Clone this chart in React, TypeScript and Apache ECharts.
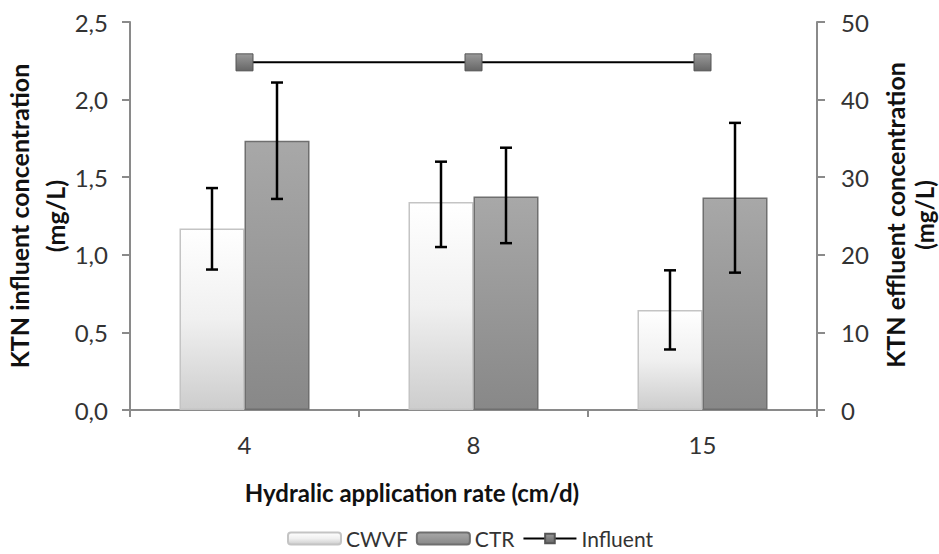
import React, { useEffect, useRef } from "react";
import * as echarts from "echarts";

const categories = ["4", "8", "15"];
const cwvf = [23.4, 26.8, 12.9];
const cwvfLow = [18.1, 21.0, 7.8];
const cwvfHigh = [28.6, 32.0, 18.0];
const ctr = [34.7, 27.5, 27.4];
const ctrLow = [27.2, 21.5, 17.7];
const ctrHigh = [42.2, 33.8, 37.0];
const influent = [2.24, 2.24, 2.24];
const leftTicks = { min: 0, max: 2.5, interval: 0.5 };
const rightTicks = { min: 0, max: 50, interval: 10 };

const FONT = "Lato, 'Open Sans', sans-serif";
const AXIS_COLOR = "#8a8a8a";
const BAR_W = 65;

function errorSeries(name: string, low: number[], high: number[], offset: number) {
  return {
    type: "custom",
    name,
    yAxisIndex: 1,
    z: 10,
    silent: true,
    data: categories.map((_, i) => [i, low[i], high[i]]),
    renderItem: (params: any, api: any) => {
      const xi = api.value(0);
      const lo = api.coord([xi, api.value(1)]);
      const hi = api.coord([xi, api.value(2)]);
      const x = lo[0] + offset;
      const cap = 6;
      const style = { stroke: "#000", lineWidth: 2.5 };
      return {
        type: "group",
        children: [
          { type: "line", shape: { x1: x, y1: lo[1], x2: x, y2: hi[1] }, style },
          { type: "line", shape: { x1: x - cap, y1: lo[1], x2: x + cap, y2: lo[1] }, style },
          { type: "line", shape: { x1: x - cap, y1: hi[1], x2: x + cap, y2: hi[1] }, style },
        ],
      };
    },
  };
}

function nameText(text: string, x: number, y: number, rotate: boolean, size: number) {
  return {
    type: "text",
    x,
    y,
    rotation: rotate ? Math.PI / 2 : 0,
    style: {
      text,
      fontSize: size,
      fontWeight: "bold",
      fontFamily: FONT,
      fill: "#111",
      textAlign: "center",
      textVerticalAlign: "middle",
    },
  };
}

export default function App() {
  const ref = useRef<HTMLDivElement>(null);
  useEffect(() => {
    if (!ref.current) return;
    const chart = echarts.init(ref.current, undefined, { renderer: "svg" });
    const cwvfColor = new echarts.graphic.LinearGradient(0, 0, 0, 1, [
      { offset: 0, color: "#ffffff" },
      { offset: 0.5, color: "#f0f0f0" },
      { offset: 1, color: "#cdcdcd" },
    ]);
    const ctrColor = new echarts.graphic.LinearGradient(0, 0, 0, 1, [
      { offset: 0, color: "#a8a8a8" },
      { offset: 1, color: "#888888" },
    ]);
    const markerColor = new echarts.graphic.LinearGradient(0, 0, 0, 1, [
      { offset: 0, color: "#9a9a9a" },
      { offset: 1, color: "#666666" },
    ]);
    chart.setOption({
      animation: false,
      textStyle: { fontFamily: FONT },
      grid: { left: 130, right: 122, top: 22, bottom: 144 },
      xAxis: {
        type: "category",
        data: categories,
        axisLine: { lineStyle: { color: AXIS_COLOR, width: 2 } },
        axisTick: { show: true, length: 7, lineStyle: { color: AXIS_COLOR, width: 2 } },
        axisLabel: { fontSize: 24, color: "#333", margin: 22, fontFamily: FONT },
      },
      yAxis: [
        {
          type: "value",
          ...leftTicks,
          position: "left",
          splitLine: { show: false },
          axisLine: { show: true, lineStyle: { color: AXIS_COLOR, width: 2 } },
          axisTick: { show: true, length: 8, lineStyle: { color: AXIS_COLOR, width: 2 } },
          axisLabel: {
            fontSize: 24,
            color: "#333",
            margin: 22,
            fontFamily: FONT,
            formatter: (v: number) => v.toFixed(1).replace(".", ","),
          },
        },
        {
          type: "value",
          ...rightTicks,
          position: "right",
          splitLine: { show: false },
          axisLine: { show: true, lineStyle: { color: AXIS_COLOR, width: 2 } },
          axisTick: { show: true, length: 8, lineStyle: { color: AXIS_COLOR, width: 2 } },
          axisLabel: { fontSize: 24, color: "#333", margin: 24, fontFamily: FONT },
        },
      ],
      legend: {
        left: 287,
        top: 528,
        padding: 0,
        itemWidth: 53,
        itemHeight: 12,
        itemGap: 8,
        textStyle: { fontSize: 21, color: "#333", fontFamily: FONT },
        data: ["CWVF", "CTR", "Influent"],
      },
      series: [
        {
          name: "CWVF",
          type: "bar",
          yAxisIndex: 1,
          barWidth: BAR_W,
          barGap: "0%",
          data: cwvf,
          itemStyle: { color: cwvfColor, borderColor: "#c4c4c4", borderWidth: 1.5 },
        },
        {
          name: "CTR",
          type: "bar",
          yAxisIndex: 1,
          barWidth: BAR_W,
          barGap: "0%",
          data: ctr,
          itemStyle: { color: ctrColor, borderColor: "#6f6f6f", borderWidth: 1.5 },
        },
        errorSeries("CWVF err", cwvfLow, cwvfHigh, -BAR_W / 2),
        errorSeries("CTR err", ctrLow, ctrHigh, BAR_W / 2),
        {
          name: "Influent",
          type: "line",
          yAxisIndex: 0,
          data: influent,
          z: 11,
          symbol: "rect",
          symbolSize: 17,
          lineStyle: { color: "#000", width: 2 },
          itemStyle: { color: markerColor, borderColor: "#555", borderWidth: 1 },
        },
      ],
      graphic: [
        nameText("KTN influent concentration", 19, 216, true, 25),
        nameText("(mg/L)", 55, 216, true, 25),
        nameText("KTN effluent concentration", 895, 215, true, 25),
        nameText("(mg/L)", 924, 215, true, 24),
        nameText("Hydralic application rate (cm/d)", 412, 492, false, 24),
      ],
    });
    return () => chart.dispose();
  }, []);
  return <div ref={ref} style={{ width: 939, height: 554, position: "absolute", left: 0, top: 0 }} />;
}
